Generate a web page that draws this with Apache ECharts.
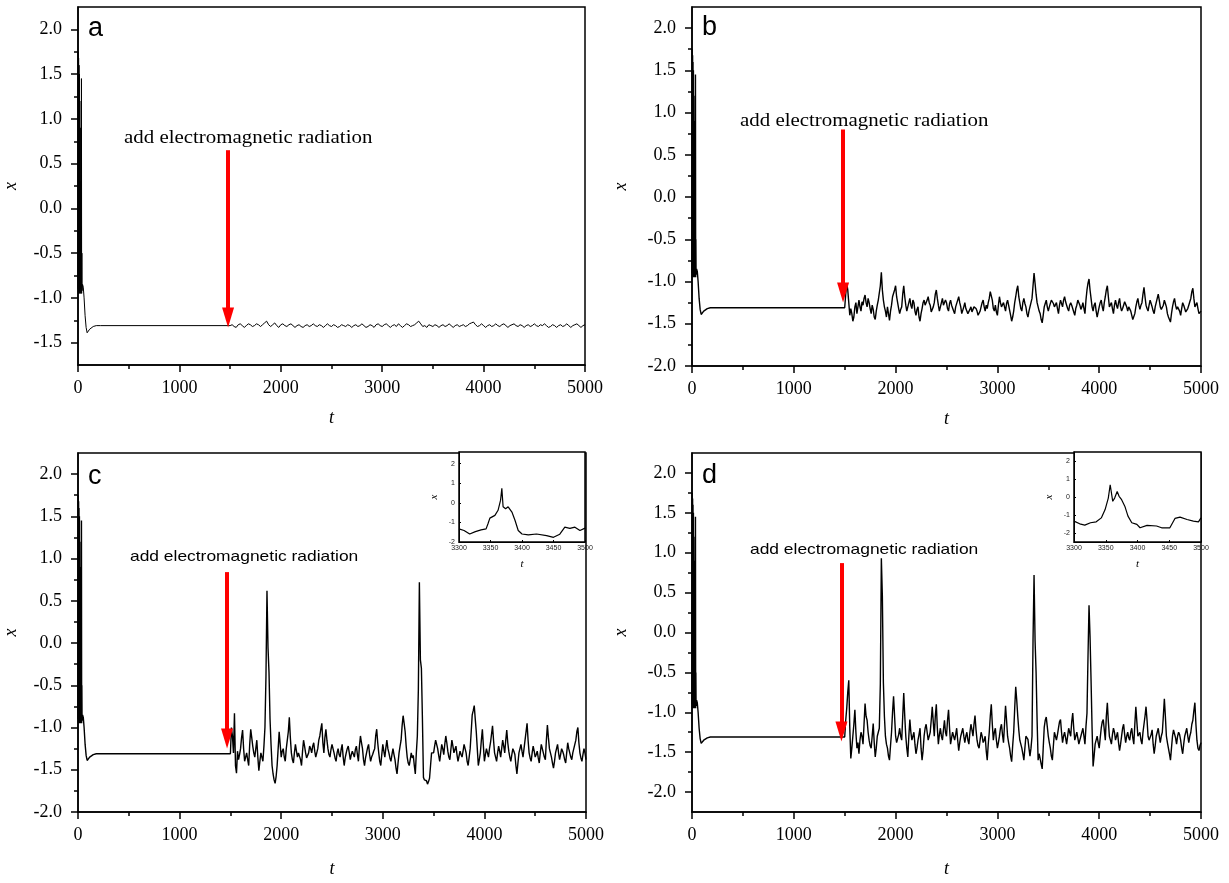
<!DOCTYPE html>
<html><head><meta charset="utf-8">
<script src="https://cdn.jsdelivr.net/npm/echarts@6/dist/echarts.min.js"></script>
<style>html,body{margin:0;padding:0;background:#fff}#c{width:1229px;height:883px}</style>
</head><body><div id="c"></div>
<script>
// ---------- data ----------
const tInit = [0, 2, 4, 6, 8, 10, 12, 14, 16, 18, 20, 22, 24, 26, 28, 30, 32, 34, 36, 38, 40, 45, 52, 60, 70, 80, 90, 100, 115, 130, 150, 180, 220, 1480];
const xInit = [-0.9, 1.75, -0.95, 1.68, -0.93, 1.6, -0.95, 1.5, -0.92, 1.2, -0.95, 0.9, -0.9, 0.3, -0.95, -0.2, -0.9, 1.45, -0.95, -0.5, -0.92, -0.85, -0.88, -1.0, -1.2, -1.33, -1.39, -1.38, -1.35, -1.33, -1.32, -1.31, -1.31, -1.31];
const noiseStart = 1500, noiseStep = 20;   // main samples at 1500,1520,...; mid samples at 1510,1530,...

const xNoiseA = [
-1.31,-1.30,-1.32,-1.33,-1.30,-1.29,-1.31,-1.33,-1.31,-1.29,
-1.30,-1.32,-1.31,-1.29,-1.30,-1.32,-1.30,-1.28,-1.26,-1.30,
-1.32,-1.30,-1.28,-1.31,-1.33,-1.30,-1.29,-1.31,-1.32,-1.30,
-1.29,-1.31,-1.33,-1.31,-1.30,-1.32,-1.33,-1.31,-1.30,-1.32,
-1.31,-1.29,-1.31,-1.32,-1.30,-1.31,-1.33,-1.31,-1.29,-1.31,
-1.32,-1.30,-1.31,-1.33,-1.32,-1.30,-1.31,-1.32,-1.30,-1.31,
-1.33,-1.31,-1.30,-1.32,-1.31,-1.29,-1.31,-1.33,-1.32,-1.30,
-1.31,-1.33,-1.30,-1.29,-1.31,-1.32,-1.30,-1.29,-1.31,-1.33,
-1.31,-1.30,-1.32,-1.29,-1.31,-1.33,-1.31,-1.29,-1.30,-1.32,
-1.31,-1.30,-1.28,-1.26,-1.29,-1.32,-1.31,-1.33,-1.30,-1.31,
-1.32,-1.30,-1.31,-1.33,-1.31,-1.30,-1.32,-1.31,-1.29,-1.31,
-1.33,-1.31,-1.30,-1.32,-1.31,-1.30,-1.32,-1.31,-1.29,-1.28,
-1.27,-1.30,-1.32,-1.31,-1.29,-1.31,-1.33,-1.31,-1.30,-1.32,
-1.31,-1.29,-1.31,-1.32,-1.30,-1.29,-1.31,-1.33,-1.31,-1.30,
-1.29,-1.31,-1.32,-1.30,-1.31,-1.33,-1.31,-1.30,-1.32,-1.31,
-1.29,-1.31,-1.32,-1.30,-1.31,-1.29,-1.31,-1.33,-1.32,-1.30,
-1.31,-1.33,-1.31,-1.30,-1.32,-1.31,-1.29,-1.31,-1.33,-1.31,
-1.30,-1.29,-1.31,-1.33,-1.31,-1.30];
const xMidA = [];

const xNoiseB = [
-1.31,-1.02,-1.25,-1.32,-1.47,-1.30,-1.38,-1.22,-1.35,-1.28,
-1.16,-1.30,-1.25,-1.38,-1.33,-1.45,-1.28,-1.20,-0.89,-1.22,
-1.35,-1.30,-1.46,-1.28,-1.20,-1.05,-1.25,-1.38,-1.30,-1.05,
-1.28,-1.36,-1.20,-1.32,-1.25,-1.40,-1.30,-1.47,-1.32,-1.22,
-1.30,-1.18,-1.28,-1.35,-1.25,-1.10,-1.28,-1.33,-1.20,-1.30,
-1.25,-1.35,-1.22,-1.30,-1.38,-1.28,-1.18,-1.30,-1.36,-1.25,
-1.33,-1.40,-1.30,-1.38,-1.28,-1.35,-1.42,-1.30,-1.22,-1.35,
-1.32,-1.20,-1.10,-1.32,-1.28,-1.40,-1.18,-1.30,-1.25,-1.35,
-1.22,-1.30,-1.47,-1.35,-1.18,-1.05,-1.25,-1.35,-1.20,-1.30,
-1.42,-1.30,-1.20,-0.90,-1.15,-1.30,-1.38,-1.49,-1.30,-1.22,
-1.35,-1.28,-1.20,-1.30,-1.25,-1.38,-1.22,-1.30,-1.18,-1.28,
-1.35,-1.25,-1.30,-1.40,-1.28,-1.20,-1.33,-1.25,-1.38,-1.10,
-0.97,-1.20,-1.35,-1.25,-1.42,-1.30,-1.22,-1.35,-1.18,-1.05,
-1.30,-1.25,-1.38,-1.22,-1.32,-1.20,-1.35,-1.28,-1.22,-1.35,
-1.28,-1.40,-1.47,-1.30,-1.20,-1.33,-1.25,-1.07,-1.28,-1.35,
-1.22,-1.30,-1.38,-1.25,-1.15,-1.30,-1.35,-1.22,-1.30,-1.42,
-1.48,-1.30,-1.20,-1.33,-1.28,-1.40,-1.25,-1.32,-1.38,-1.28,
-1.20,-1.08,-1.30,-1.25,-1.38,-1.35];
const xMidB = [
-1.15,-1.10,-1.40,-1.38,-1.42,-1.25,-1.30,-1.30,-1.24,-1.20,
-1.25,-1.20,-1.32,-1.28,-1.42,-1.35,-1.22,-1.05,-1.10,-1.30,
-1.42,-1.38,-1.35,-1.18,-1.10,-1.18,-1.32,-1.33,-1.15,-1.18,
-1.35,-1.25,-1.28,-1.22,-1.35,-1.33,-1.42,-1.38,-1.25,-1.28,
-1.22,-1.25,-1.36,-1.30,-1.15,-1.20,-1.35,-1.25,-1.28,-1.22,
-1.32,-1.26,-1.28,-1.35,-1.30,-1.22,-1.25,-1.38,-1.30,-1.32,
-1.38,-1.33,-1.36,-1.30,-1.32,-1.40,-1.35,-1.25,-1.30,-1.28,
-1.25,-1.12,-1.22,-1.35,-1.36,-1.28,-1.25,-1.32,-1.30,-1.26,
-1.28,-1.40,-1.42,-1.25,-1.10,-1.18,-1.32,-1.25,-1.26,-1.38,
-1.35,-1.25,-1.05,-1.02,-1.25,-1.35,-1.45,-1.40,-1.26,-1.30,
-1.30,-1.22,-1.26,-1.28,-1.32,-1.28,-1.26,-1.22,-1.24,-1.32,
-1.28,-1.28,-1.36,-1.32,-1.22,-1.28,-1.30,-1.32,-1.22,-1.02,
-1.10,-1.30,-1.28,-1.35,-1.36,-1.25,-1.30,-1.25,-1.10,-1.18,
-1.28,-1.32,-1.28,-1.28,-1.25,-1.30,-1.32,-1.24,-1.30,-1.30,
-1.35,-1.45,-1.38,-1.24,-1.28,-1.28,-1.15,-1.18,-1.32,-1.28,
-1.26,-1.35,-1.30,-1.20,-1.22,-1.33,-1.28,-1.26,-1.38,-1.45,
-1.38,-1.24,-1.28,-1.30,-1.35,-1.32,-1.28,-1.36,-1.32,-1.24,
-1.12,-1.20,-1.28,-1.32,-1.36];

const xNoiseC = [
-1.31,-1.10,-0.83,-1.54,-1.38,-1.25,-1.03,-1.40,-1.30,-1.45,
-1.02,-1.22,-1.35,-1.15,-1.51,-1.30,-1.40,-1.00,0.62,-0.35,
-1.20,-1.55,-1.66,-1.45,-1.05,-1.35,-1.25,-1.40,-1.15,-0.88,
-1.30,-1.42,-1.20,-1.35,-1.28,-1.45,-1.15,-1.30,-1.38,-1.22,
-1.30,-1.18,-1.35,-1.25,-1.10,-0.95,-1.30,-1.02,-1.25,-1.35,
-1.20,-1.30,-1.40,-1.25,-1.35,-1.20,-1.45,-1.30,-1.22,-1.38,
-1.28,-1.35,-1.22,-1.40,-1.10,-1.25,-1.45,-1.30,-1.20,-1.40,
-1.32,-1.25,-1.02,-1.30,-1.45,-1.20,-1.35,-1.15,-1.30,-1.40,
-1.25,-1.38,-1.55,-1.30,-1.15,-0.86,-1.05,-1.35,-1.45,-1.30,
-1.33,-1.55,-1.10,0.72,-0.30,-1.59,-1.60,-1.67,-1.60,-1.30,
-1.30,-1.15,-1.25,-1.40,-1.20,-1.32,-1.10,-1.28,-1.38,-1.15,
-1.30,-1.22,-1.40,-1.28,-1.35,-1.20,-1.30,-1.45,-1.25,-0.85,
-0.74,-1.05,-1.45,-1.30,-1.02,-1.40,-1.25,-1.35,-1.18,-0.98,
-1.30,-1.40,-1.22,-1.35,-1.15,-1.30,-1.03,-1.28,-1.40,-1.25,
-1.32,-1.55,-1.30,-1.20,-1.35,-1.15,-0.95,-1.30,-1.40,-1.22,
-1.35,-1.28,-1.42,-1.20,-1.30,-1.38,-0.97,-1.25,-1.35,-1.48,
-1.30,-1.20,-1.38,-1.25,-1.32,-1.42,-1.18,-1.30,-1.38,-1.25,
-1.15,-1.00,-1.30,-1.40,-1.25,-1.38];
const xMidC = [
-1.00,-1.30,-1.45,-1.28,-1.32,-1.12,-1.25,-1.35,-1.38,-1.20,
-1.12,-1.30,-1.25,-1.35,-1.40,-1.35,-1.22,-0.40,-0.05,-0.90,
-1.45,-1.62,-1.58,-1.25,-1.20,-1.28,-1.35,-1.25,-1.05,-1.12,
-1.38,-1.30,-1.28,-1.30,-1.38,-1.28,-1.22,-1.36,-1.30,-1.25,
-1.22,-1.28,-1.30,-1.15,-1.02,-1.18,-1.12,-1.15,-1.32,-1.26,
-1.25,-1.36,-1.30,-1.32,-1.26,-1.35,-1.36,-1.25,-1.30,-1.32,
-1.30,-1.26,-1.32,-1.22,-1.18,-1.38,-1.36,-1.24,-1.32,-1.35,
-1.28,-1.10,-1.18,-1.40,-1.32,-1.28,-1.24,-1.25,-1.36,-1.32,
-1.32,-1.48,-1.42,-1.22,-0.98,-0.95,-1.22,-1.42,-1.38,-1.36,
-1.45,-1.30,-0.55,-0.20,-0.90,-1.62,-1.63,-1.64,-1.45,-1.30,
-1.22,-1.20,-1.33,-1.30,-1.25,-1.20,-1.18,-1.35,-1.26,-1.22,
-1.26,-1.32,-1.34,-1.32,-1.28,-1.25,-1.40,-1.35,-1.05,-0.80,
-0.90,-1.25,-1.38,-1.15,-1.22,-1.32,-1.30,-1.25,-1.08,-1.15,
-1.35,-1.30,-1.28,-1.25,-1.22,-1.15,-1.18,-1.35,-1.32,-1.28,
-1.45,-1.42,-1.25,-1.28,-1.25,-1.05,-1.15,-1.36,-1.30,-1.28,
-1.32,-1.36,-1.30,-1.25,-1.35,-1.15,-1.12,-1.30,-1.42,-1.40,
-1.25,-1.30,-1.32,-1.28,-1.38,-1.30,-1.25,-1.35,-1.30,-1.20,
-1.05,-1.18,-1.36,-1.32,-1.30];

const xNoiseD = [
-1.31,-0.95,-0.60,-1.58,-1.30,-0.97,-1.45,-1.52,-1.25,-1.40,
-0.89,-1.10,-1.35,-1.45,-1.14,-1.56,-1.30,-1.20,0.93,-0.63,
-1.30,-1.45,-1.60,-1.25,-0.80,-1.30,-1.40,-1.20,-1.35,-0.76,
-1.30,-1.56,-1.09,-1.35,-1.25,-1.52,-1.35,-1.20,-1.60,-1.30,
-1.15,-1.35,-1.25,-0.93,-1.30,-0.90,-1.40,-1.20,-1.35,-1.10,
-1.30,-0.97,-1.40,-1.25,-1.35,-1.20,-1.48,-1.30,-1.20,-1.38,
-1.25,-1.40,-1.15,-1.30,-1.04,-1.35,-1.45,-1.25,-1.38,-1.30,
-1.60,-1.25,-0.90,-1.35,-1.20,-1.45,-1.30,-1.15,-1.38,-0.92,
-1.30,-1.45,-1.62,-1.25,-0.68,-1.05,-1.35,-1.45,-1.60,-1.30,
-1.34,-1.55,-1.30,0.72,-0.50,-1.60,-1.58,-1.71,-1.19,-1.06,
-1.30,-1.45,-1.60,-1.25,-1.35,-1.20,-1.09,-1.38,-1.25,-1.40,
-1.20,-1.30,-1.01,-1.35,-1.25,-1.40,-1.30,-1.20,-1.40,-1.01,
0.34,-0.60,-1.68,-1.40,-1.30,-1.45,-1.20,-1.09,-1.35,-0.88,
-1.30,-1.40,-1.20,-1.35,-1.25,-1.48,-1.30,-1.15,-1.38,-1.25,
-1.35,-1.20,-1.40,-0.93,-1.30,-1.25,-1.40,-1.15,-0.93,-1.30,
-1.35,-1.22,-1.52,-1.30,-1.20,-1.38,-1.25,-0.83,-1.30,-1.40,
-1.60,-1.30,-1.20,-1.40,-1.25,-1.35,-1.52,-1.30,-1.20,-1.38,
-1.25,-1.10,-0.88,-1.35,-1.48,-1.38];
const xMidD = [
-1.10,-0.75,-1.20,-1.45,-1.15,-1.25,-1.38,-1.35,-1.30,-1.15,
-1.05,-1.25,-1.42,-1.30,-1.38,-1.45,-1.25,-0.65,0.45,-1.05,
-1.40,-1.55,-1.42,-1.00,-1.05,-1.38,-1.28,-1.30,-1.05,-1.05,
-1.45,-1.30,-1.25,-1.30,-1.40,-1.45,-1.28,-1.45,-1.48,-1.20,
-1.25,-1.30,-1.10,-1.12,-1.05,-1.20,-1.28,-1.30,-1.22,-1.25,
-1.10,-1.20,-1.32,-1.30,-1.28,-1.35,-1.38,-1.25,-1.30,-1.30,
-1.35,-1.25,-1.22,-1.15,-1.22,-1.42,-1.35,-1.30,-1.35,-1.48,
-1.40,-1.05,-1.15,-1.25,-1.35,-1.38,-1.20,-1.28,-1.15,-1.10,
-1.38,-1.55,-1.42,-0.95,-0.85,-1.22,-1.40,-1.52,-1.45,-1.32,
-1.45,-1.45,-0.10,-0.10,-1.10,-1.52,-1.65,-1.45,-1.10,-1.18,
-1.38,-1.55,-1.42,-1.30,-1.28,-1.12,-1.25,-1.30,-1.32,-1.30,
-1.25,-1.12,-1.20,-1.30,-1.32,-1.35,-1.25,-1.30,-1.18,-0.30,
-0.05,-1.20,-1.55,-1.35,-1.38,-1.32,-1.12,-1.22,-1.05,-1.12,
-1.35,-1.28,-1.25,-1.30,-1.38,-1.40,-1.20,-1.28,-1.30,-1.32,
-1.25,-1.32,-1.15,-1.12,-1.28,-1.35,-1.25,-1.05,-1.10,-1.35,
-1.28,-1.40,-1.42,-1.25,-1.30,-1.30,-1.05,-1.05,-1.38,-1.52,
-1.45,-1.22,-1.32,-1.30,-1.28,-1.45,-1.40,-1.25,-1.30,-1.30,
-1.15,-0.98,-1.15,-1.45,-1.42];

// inset (zoom 3300-3500)
const insetCT = [3300,3308,3317,3326,3335,3343,3346,3349,3357,3362,3366,3368,3370,3374,3378,3384,3389,3394,3400,3410,3423,3439,3450,3460,3468,3476,3484,3492,3500];
const insetCX = [-1.33,-1.41,-1.59,-1.47,-1.38,-1.33,-1.07,-0.78,-0.64,-0.38,0.14,0.74,-0.20,-0.30,-0.20,-0.47,-0.90,-1.41,-1.59,-1.64,-1.59,-1.67,-1.76,-1.60,-1.24,-1.30,-1.24,-1.41,-1.29];
const insetDT = [3300,3309,3317,3326,3335,3343,3349,3354,3357,3361,3364,3368,3371,3375,3380,3385,3391,3399,3404,3415,3430,3438,3451,3459,3467,3478,3488,3496,3500];
const insetDX = [-1.34,-1.49,-1.56,-1.43,-1.38,-1.16,-0.70,-0.06,0.68,-0.24,-0.06,0.31,0.04,-0.15,-0.51,-1.06,-1.43,-1.52,-1.71,-1.58,-1.61,-1.71,-1.71,-1.19,-1.12,-1.25,-1.34,-1.38,-1.16];

// axis ticks
const xTicksMain = [0, 1000, 2000, 3000, 4000, 5000];
const xTicksInset = [3300, 3350, 3400, 3450, 3500];
const yMajorA = [-1.5, -1.0, -0.5, 0.0, 0.5, 1.0, 1.5, 2.0];
const yMinorA = [-1.25, -0.75, -0.25, 0.25, 0.75, 1.25, 1.75];
const yMajorBCD = [-2.0, -1.5, -1.0, -0.5, 0.0, 0.5, 1.0, 1.5, 2.0];
const yMinorBCD = [-1.75, -1.25, -0.75, -0.25, 0.25, 0.75, 1.25, 1.75];
const yTicksInset = [-2, -1, 0, 1, 2];

// arrows (t position, start value, end value)
const arrowT = [1480, 1484, 1467, 1468];
const arrowFrom = [0.65, 0.80, 0.84, 0.87];
const arrowTo = [-1.22, -1.13, -1.13, -1.24];

const panelLetters = ['a', 'b', 'c', 'd'];
const noteText = 'add electromagnetic radiation';

// ---------- build ----------
const SERIF = '"Liberation Serif","Times New Roman",serif';
const SANS = '"Liberation Sans",Arial,sans-serif';
const BLACK = '#000';

function buildSeries(noise, mids) {
  const d = tInit.map((t, i) => [t, xInit[i]]);
  noise.forEach((v, i) => {
    d.push([noiseStart + i * noiseStep, v]);
    if (i < mids.length) d.push([noiseStart + i * noiseStep + noiseStep / 2, mids[i]]);
  });
  return d;
}
const noises = [xNoiseA, xNoiseB, xNoiseC, xNoiseD];
const mids = [xMidA, xMidB, xMidC, xMidD];
const yRanges = [[-1.75, 2.25], [-2.0, 2.25], [-2.0, 2.25], [-2.25, 2.25]];
const yMajors = [yMajorA, yMajorBCD, yMajorBCD, yMajorBCD];
const yMinors = [yMinorA, yMinorBCD, yMinorBCD, yMinorBCD];

const grids = [
  {left: 78, top: 7, width: 507, height: 358},
  {left: 692, top: 7, width: 509, height: 359},
  {left: 78, top: 453, width: 508, height: 359},
  {left: 692, top: 453, width: 509, height: 359},
  {left: 459, top: 452, width: 126, height: 90},
  {left: 1074, top: 452, width: 127, height: 90}
].map(g => Object.assign({show: true, borderColor: BLACK, borderWidth: 1.5, backgroundColor: '#fff', containLabel: false}, g));

const xAxes = [], yAxes = [], series = [];
const lineStyleAxis = {color: BLACK, width: 1.5};
for (let i = 0; i < 4; i++) {
  xAxes.push({
    gridIndex: i, type: 'value', min: 0, max: 5000, interval: 1000,
    axisLine: {show: true, onZero: false, lineStyle: lineStyleAxis},
    axisTick: {show: true, length: 7, lineStyle: lineStyleAxis},
    minorTick: {show: true, splitNumber: 2, length: 4, lineStyle: lineStyleAxis},
    splitLine: {show: false},
    axisLabel: {fontFamily: SERIF, fontSize: 18, color: BLACK, margin: 14,
      customValues: xTicksMain, formatter: v => String(v)},
    name: 't', nameLocation: 'middle', nameGap: i < 2 ? 44 : 48,
    nameTextStyle: {fontFamily: SERIF, fontStyle: 'italic', fontSize: 18, color: BLACK}
  });
  yAxes.push({
    gridIndex: i, type: 'value', min: yRanges[i][0], max: yRanges[i][1],
    axisLine: {show: true, onZero: false, lineStyle: lineStyleAxis},
    axisTick: {show: true, length: 7, lineStyle: lineStyleAxis, customValues: yMajors[i]},
    splitLine: {show: false},
    axisLabel: {fontFamily: SERIF, fontSize: 18, color: BLACK, margin: 16,
      customValues: yMajors[i], formatter: v => Number(v).toFixed(1)},
    name: 'x', nameLocation: 'middle', nameGap: i % 2 === 0 ? 58 : 62,
    nameTextStyle: {fontFamily: SERIF, fontStyle: 'italic', fontSize: 18, color: BLACK}
  });
}
// insets
const insetYR = [[-2, 2.6], [-2.5, 2.5]];
for (let k = 0; k < 2; k++) {
  xAxes.push({
    gridIndex: 4 + k, type: 'value', min: 3300, max: 3500, interval: 50,
    axisLine: {show: true, onZero: false, lineStyle: {color: BLACK, width: 1}},
    axisTick: {show: true, inside: true, length: 2, lineStyle: {color: BLACK, width: 1}},
    splitLine: {show: false},
    axisLabel: {fontFamily: SANS, fontSize: 7, color: '#222', margin: 3,
      customValues: xTicksInset, formatter: v => String(v)},
    name: 't', nameLocation: 'middle', nameGap: 17,
    nameTextStyle: {fontFamily: SERIF, fontStyle: 'italic', fontSize: 11, color: BLACK}
  });
  yAxes.push({
    gridIndex: 4 + k, type: 'value', min: insetYR[k][0], max: insetYR[k][1],
    axisLine: {show: true, onZero: false, lineStyle: {color: BLACK, width: 1}},
    axisTick: {show: true, inside: true, length: 2, lineStyle: {color: BLACK, width: 1}, customValues: yTicksInset},
    splitLine: {show: false},
    axisLabel: {fontFamily: SANS, fontSize: 7, color: '#222', margin: 4, customValues: yTicksInset},
    name: 'x', nameLocation: 'middle', nameGap: 19,
    nameTextStyle: {fontFamily: SERIF, fontStyle: 'italic', fontSize: 11, color: BLACK}
  });
}
// minor y ticks (main panels)
for (let i = 0; i < 4; i++) {
  yAxes.push({
    gridIndex: i, type: 'value', min: yRanges[i][0], max: yRanges[i][1], position: 'left',
    axisLine: {show: false},
    axisTick: {show: true, length: 4, lineStyle: lineStyleAxis, customValues: yMinors[i]},
    axisLabel: {show: false}, splitLine: {show: false}
  });
}

for (let i = 0; i < 4; i++) {
  series.push({
    type: 'line', xAxisIndex: i, yAxisIndex: i, data: buildSeries(noises[i], mids[i]),
    showSymbol: false, symbol: 'none', silent: true, animation: false,
    lineStyle: {color: BLACK, width: i === 0 ? 1 : 1.4},
    markLine: {
      silent: true, animation: false, symbol: ['none', 'triangle'], symbolSize: [12, 20],
      label: {show: false}, emphasis: {disabled: true},
      lineStyle: {color: '#ff0000', width: 4, type: 'solid'},
      itemStyle: {color: '#ff0000'},
      data: [[{coord: [arrowT[i], arrowFrom[i]]}, {coord: [arrowT[i], arrowTo[i]]}]]
    }
  });
}
series.push({type: 'line', xAxisIndex: 4, yAxisIndex: 4, data: insetCT.map((t, i) => [t, insetCX[i]]),
  showSymbol: false, symbol: 'none', silent: true, animation: false, lineStyle: {color: BLACK, width: 1.2}});
series.push({type: 'line', xAxisIndex: 5, yAxisIndex: 5, data: insetDT.map((t, i) => [t, insetDX[i]]),
  showSymbol: false, symbol: 'none', silent: true, animation: false, lineStyle: {color: BLACK, width: 1.2}});

const letterPos = [[88, 29], [702, 28], [88, 477], [702, 476]];
const notePos = [[124, 138, 'serif'], [740, 121, 'serif'], [130, 557, 'sans'], [750, 550, 'sans']];
const graphics = [];
panelLetters.forEach((L, i) => graphics.push({
  type: 'text', x: letterPos[i][0], y: letterPos[i][1], z: 100,
  style: {text: L, font: '27px ' + SANS, fill: BLACK, textVerticalAlign: 'middle'}
}));
notePos.forEach(p => graphics.push({
  type: 'text', x: p[0], y: p[1], z: 100, scaleX: p[2] === 'serif' ? 1.1 : 1.16,
  style: {text: noteText, font: (p[2] === 'serif' ? '19px ' + SERIF : '15px ' + SANS), fill: BLACK, textVerticalAlign: 'middle'}
}));

const chart = echarts.init(document.getElementById('c'));
chart.setOption({
  animation: false, backgroundColor: '#fff',
  grid: grids, xAxis: xAxes, yAxis: yAxes, series: series, graphic: graphics
});
</script></body></html>
